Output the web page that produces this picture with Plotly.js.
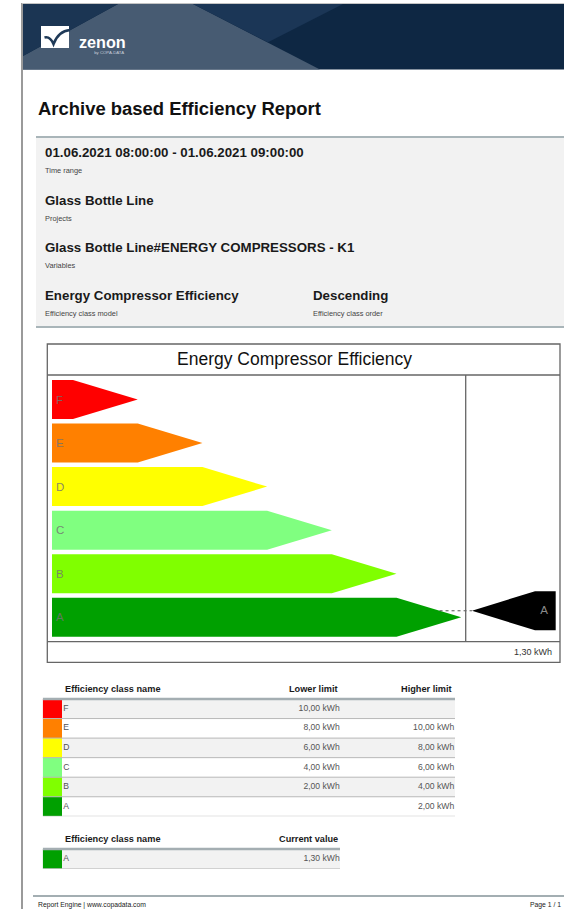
<!DOCTYPE html>
<html>
<head>
<meta charset="utf-8">
<script src="https://cdn.plot.ly/plotly-3.0.1.min.js"></script>
<style>
  html, body { margin:0; padding:0; background:#fff; }
  #page { position:relative; width:564px; height:909px; overflow:hidden; background:#fff;
          font-family:"Liberation Sans", Arial, sans-serif; }
  .abs { position:absolute; white-space:nowrap; }
  .big { font-weight:bold; font-size:13.3px; color:#1a1a1a; }
  .small { font-size:7.4px; color:#444; }
  #chart { position:absolute; left:0; top:0; width:564px; height:909px; }
</style>
</head>
<body>
<div id="page">
  <!-- page border -->
  <div class="abs" style="left:21px;top:3px;width:2px;height:906px;background:#9a9a9a;"></div>
  <div class="abs" style="left:22px;top:3px;width:542px;height:1px;background:#c4c4c4;"></div>
  <!-- banner -->
  <svg class="abs" style="left:0;top:0" width="564" height="72">
    <rect x="23" y="4" width="541" height="65.5" fill="#0e2743"/>
    <polygon points="118,4 193,4 320,69.5 23,69.5 23,56" fill="#475b72"/>
    <polygon points="23,4 118,4 23,56" fill="#1b3553"/>
    <polygon points="193,4 343,4 268,42.3" fill="#1b3656"/>
    <rect x="41" y="26" width="28" height="22" fill="#ffffff"/>
    <path d="M44.5,37.5 Q50,36 53.5,44 Q58.5,31 70,30" stroke="#1f3a58" stroke-width="2.6" fill="none"/>
    <text x="79" y="47.5" fill="#ffffff" font-family="Liberation Sans, Arial, sans-serif" font-weight="bold" font-size="16.2">zenon</text>
    <text x="124" y="54" fill="#c8d0da" text-anchor="end" font-family="Liberation Sans, Arial, sans-serif" font-size="4.3">by COPA-DATA</text>
  </svg>
  <!-- title -->
  <div class="abs" style="left:38px;top:98px;font-weight:bold;font-size:18.45px;color:#111;">Archive based Efficiency Report</div>
  <!-- info panel -->
  <div class="abs" style="left:36px;top:136px;width:528px;height:188px;background:#f2f2f2;border-top:2.5px solid #a9b5b9;border-bottom:2.5px solid #a9b5b9;"></div>
  <div class="abs big" style="left:45px;top:145px;">01.06.2021 08:00:00 - 01.06.2021 09:00:00</div>
  <div class="abs small" style="left:45px;top:166px;">Time range</div>
  <div class="abs big" style="left:45px;top:192.5px;">Glass Bottle Line</div>
  <div class="abs small" style="left:45px;top:213.5px;">Projects</div>
  <div class="abs big" style="left:45px;top:240px;">Glass Bottle Line#ENERGY COMPRESSORS - K1</div>
  <div class="abs small" style="left:45px;top:261px;">Variables</div>
  <div class="abs big" style="left:45px;top:287.5px;">Energy Compressor Efficiency</div>
  <div class="abs small" style="left:45px;top:308.5px;">Efficiency class model</div>
  <div class="abs big" style="left:313px;top:287.5px;">Descending</div>
  <div class="abs small" style="left:313px;top:308.5px;">Efficiency class order</div>
  <!-- footer -->
  <div class="abs" style="left:33px;top:895px;width:531px;height:1.5px;background:#a3aeb2;"></div>
  <div class="abs" style="left:38px;top:901px;font-size:6.8px;color:#222;">Report Engine | www.copadata.com</div>
  <div class="abs" style="right:3px;top:901px;font-size:6.8px;color:#222;">Page 1 / 1</div>

  <div id="chart"></div>
</div>
<script>
// ---------------- data ----------------
const chartTitle = 'Energy Compressor Efficiency';
const classNames = ['F', 'E', 'D', 'C', 'B', 'A'];
const classColors = ['#ff0000', '#ff8000', '#ffff00', '#80ff80', '#80ff00', '#00a000'];
const lowerLimits = [10, 8, 6, 4, 2, null];
const higherLimits = [null, 10, 8, 6, 4, 2];
const unitLabel = 'kWh';
const currentClass = 'A';
const currentValue = 1.30;
const tableHeaders = ['Efficiency class name', 'Lower limit', 'Higher limit'];
const currentHeaders = ['Efficiency class name', 'Current value'];

// ---------------- helpers ----------------
const W = 564, H = 909;
const px = x => x / W;
const py = y => 1 - y / H;
const fmt = v => (v === null || v === undefined) ? '' : v.toFixed(2).replace('.', ',') + ' ' + unitLabel;
const FONT = 'Liberation Sans, Arial, sans-serif';

const n = classNames.length;
const HALF = 0.4477;       // half arrow height in class units
const BODY0 = 0.325;       // body length of the shortest arrow
const traces = [];

// ---------------- energy label arrows ----------------
classNames.forEach((name, i) => {
  const k = n - 1 - i;           // vertical slot (A at bottom)
  const rank = i + 1;            // arrow length rank
  const body = BODY0 + (rank - 1);
  const tip = body + 1;
  traces.push({
    type: 'scatter', mode: 'lines', fill: 'toself',
    x: [0, body, tip, body, 0, 0],
    y: [k + HALF, k + HALF, k, k - HALF, k - HALF, k + HALF],
    fillcolor: classColors[i], line: { width: 0, color: classColors[i] },
    xaxis: 'x', yaxis: 'y', hoverinfo: 'skip', showlegend: false
  });
});
traces.push({
  type: 'scatter', mode: 'text',
  x: classNames.map(() => 0.06),
  y: classNames.map((_, i) => n - 1 - i - 0.03),
  text: classNames, textposition: 'middle right',
  textfont: { family: FONT, size: 11.5, color: 'rgba(115,115,115,0.85)' },
  xaxis: 'x', yaxis: 'y', hoverinfo: 'skip', showlegend: false
});

// current value indicator
const ci = classNames.indexOf(currentClass);
const ck = n - 1 - ci;
const lo = lowerLimits[ci] === null ? 0 : lowerLimits[ci];
const hi = higherLimits[ci] === null ? lo + 2 : higherLimits[ci];
const frac = (currentValue - lo) / (hi - lo);
const yInd = ck - 0.5 + frac;
const tipX = 6.491, bodyL = 7.465, bodyR = 7.785;
traces.push({
  type: 'scatter', mode: 'lines', fill: 'toself',
  x: [tipX, bodyL, bodyR, bodyR, bodyL, tipX],
  y: [yInd, yInd + HALF, yInd + HALF, yInd - HALF, yInd - HALF, yInd],
  fillcolor: '#000000', line: { width: 0, color: '#000' },
  xaxis: 'x', yaxis: 'y', hoverinfo: 'skip', showlegend: false
});
traces.push({
  type: 'scatter', mode: 'text', x: [7.604], y: [yInd], text: [currentClass],
  textfont: { family: FONT, size: 11.5, color: '#8a8a8a' },
  xaxis: 'x', yaxis: 'y', hoverinfo: 'skip', showlegend: false
});
// dotted connector from the current class arrow edge to the indicator
const cBody = BODY0 + ci;
const edgeX = cBody + (ck + HALF - yInd) / HALF;
traces.push({
  type: 'scatter', mode: 'lines', x: [edgeX, tipX], y: [yInd, yInd],
  line: { color: '#555555', width: 1, dash: 'dot' },
  xaxis: 'x', yaxis: 'y', hoverinfo: 'skip', showlegend: false
});

// ---------------- class table ----------------
const rows = classNames.map((_, i) => i);
traces.push({
  type: 'bar', orientation: 'h', base: 0,
  x: rows.map(() => 19.3), y: rows, width: rows.map(() => 1),
  marker: { color: classColors, line: { width: 0 } },
  xaxis: 'x3', yaxis: 'y3', hoverinfo: 'skip', showlegend: false
});
const cellFont = { family: FONT, size: 8.6, color: '#555' };
traces.push({ type: 'scatter', mode: 'text', x: rows.map(() => 20.5), y: rows, text: classNames,
  textposition: 'middle right', textfont: cellFont, xaxis: 'x3', yaxis: 'y3', hoverinfo: 'skip', showlegend: false });
traces.push({ type: 'scatter', mode: 'text', x: rows.map(() => 297), y: rows, text: lowerLimits.map(fmt),
  textposition: 'middle left', textfont: cellFont, xaxis: 'x3', yaxis: 'y3', hoverinfo: 'skip', showlegend: false });
traces.push({ type: 'scatter', mode: 'text', x: rows.map(() => 411.5), y: rows, text: higherLimits.map(fmt),
  textposition: 'middle left', textfont: cellFont, xaxis: 'x3', yaxis: 'y3', hoverinfo: 'skip', showlegend: false });

// ---------------- current value table ----------------
const curRows = [0];
traces.push({
  type: 'bar', orientation: 'h', base: 0, x: [19.3], y: curRows, width: [1],
  marker: { color: [classColors[ci]], line: { width: 0 } },
  xaxis: 'x4', yaxis: 'y4', hoverinfo: 'skip', showlegend: false
});
traces.push({ type: 'scatter', mode: 'text', x: [20.5], y: curRows, text: [currentClass],
  textposition: 'middle right', textfont: cellFont, xaxis: 'x4', yaxis: 'y4', hoverinfo: 'skip', showlegend: false });
traces.push({ type: 'scatter', mode: 'text', x: [297], y: curRows, text: [fmt(currentValue)],
  textposition: 'middle left', textfont: cellFont, xaxis: 'x4', yaxis: 'y4', hoverinfo: 'skip', showlegend: false });

// ---------------- layout ----------------
const hidden = { visible: false, fixedrange: true, showgrid: false, zeroline: false };
const shapes = [];
const frameColor = '#666666';
// chart frame
shapes.push({ type: 'rect', xref: 'paper', yref: 'paper', x0: px(47.3), x1: px(560), y0: py(662.3), y1: py(344),
  line: { color: frameColor, width: 1.3 }, fillcolor: 'rgba(0,0,0,0)' });
shapes.push({ type: 'line', xref: 'paper', yref: 'paper', x0: px(47.3), x1: px(560), y0: py(375), y1: py(375),
  line: { color: frameColor, width: 1.3 } });
shapes.push({ type: 'line', xref: 'paper', yref: 'paper', x0: px(47.3), x1: px(560), y0: py(641.7), y1: py(641.7),
  line: { color: frameColor, width: 1.3 } });
shapes.push({ type: 'line', xref: 'paper', yref: 'paper', x0: px(465.7), x1: px(465.7), y0: py(375), y1: py(641.7),
  line: { color: frameColor, width: 1.3 } });
// class table rows
rows.forEach(i => {
  if (i % 2 === 0) shapes.push({ type: 'rect', xref: 'x3', yref: 'y3', x0: 0, x1: 412.3, y0: i - 0.5, y1: i + 0.5,
    fillcolor: '#f2f2f2', line: { width: 0 }, layer: 'below' });
  shapes.push({ type: 'line', xref: 'x3', yref: 'y3', x0: 0, x1: 412.3, y0: i + 0.5, y1: i + 0.5,
    line: { color: '#b8b8b8', width: 1 } });
});
shapes.push({ type: 'line', xref: 'x3', yref: 'y3', x0: 0, x1: 412.3, y0: -0.5, y1: -0.5,
  line: { color: '#a4aeb2', width: 2.5 } });
// current table rows
shapes.push({ type: 'rect', xref: 'x4', yref: 'y4', x0: 0, x1: 297.3, y0: -0.5, y1: 0.5,
  fillcolor: '#f2f2f2', line: { width: 0 }, layer: 'below' });
shapes.push({ type: 'line', xref: 'x4', yref: 'y4', x0: 0, x1: 297.3, y0: 0.5, y1: 0.5,
  line: { color: '#b8b8b8', width: 1 } });
shapes.push({ type: 'line', xref: 'x4', yref: 'y4', x0: 0, x1: 297.3, y0: -0.5, y1: -0.5,
  line: { color: '#a4aeb2', width: 2.5 } });

const hdrFont = { family: FONT, size: 9.2, color: '#1a1a1a' };
const annotations = [
  { text: chartTitle, xref: 'paper', yref: 'paper', x: px(294), y: py(358.5), showarrow: false,
    xanchor: 'center', yanchor: 'middle', font: { family: FONT, size: 17.5, color: '#111' } },
  { text: fmt(currentValue), xref: 'paper', yref: 'paper', x: px(554), y: py(652), showarrow: false,
    xanchor: 'right', yanchor: 'middle', font: { family: FONT, size: 9, color: '#333' } },
  { text: '<b>' + tableHeaders[0] + '</b>', xref: 'x3', yref: 'y3', x: 20.5, y: -1, xanchor: 'left', yanchor: 'middle', showarrow: false, font: hdrFont },
  { text: '<b>' + tableHeaders[1] + '</b>', xref: 'x3', yref: 'y3', x: 297, y: -1, xanchor: 'right', yanchor: 'middle', showarrow: false, font: hdrFont },
  { text: '<b>' + tableHeaders[2] + '</b>', xref: 'x3', yref: 'y3', x: 411.5, y: -1, xanchor: 'right', yanchor: 'middle', showarrow: false, font: hdrFont },
  { text: '<b>' + currentHeaders[0] + '</b>', xref: 'x4', yref: 'y4', x: 20.5, y: -1, xanchor: 'left', yanchor: 'middle', showarrow: false, font: hdrFont },
  { text: '<b>' + currentHeaders[1] + '</b>', xref: 'x4', yref: 'y4', x: 297, y: -1, xanchor: 'right', yanchor: 'middle', showarrow: false, font: hdrFont }
];

const layout = {
  width: W, height: H, margin: { l: 0, r: 0, t: 0, b: 0, pad: 0 },
  paper_bgcolor: 'rgba(0,0,0,0)', plot_bgcolor: 'rgba(0,0,0,0)',
  showlegend: false, hovermode: false,
  xaxis: Object.assign({ domain: [px(47.3), px(560)], range: [-0.0726, 7.8516], anchor: 'y' }, hidden),
  yaxis: Object.assign({ domain: [py(641.7), py(375)], range: [-0.560, 5.562], anchor: 'x' }, hidden),
  xaxis3: Object.assign({ domain: [px(42.7), px(455)], range: [0, 412.3], anchor: 'y3' }, hidden),
  yaxis3: Object.assign({ domain: [py(816.3), py(679.45)], range: [5.5, -1.5], anchor: 'x3' }, hidden),
  xaxis4: Object.assign({ domain: [px(42.7), px(340)], range: [0, 297.3], anchor: 'y4' }, hidden),
  yaxis4: Object.assign({ domain: [py(868.7), py(829.3)], range: [0.5, -1.5], anchor: 'x4' }, hidden),
  shapes: shapes, annotations: annotations
};

Plotly.newPlot('chart', traces, layout, { staticPlot: true, displayModeBar: false });
</script>
</body>
</html>
